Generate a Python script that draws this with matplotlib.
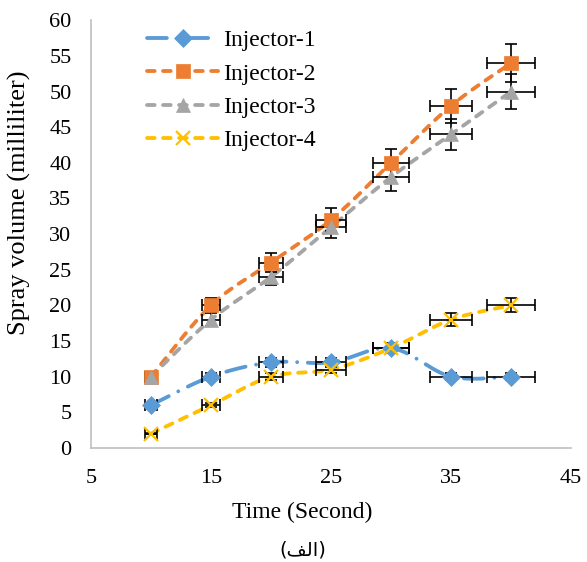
import numpy as np
import matplotlib
matplotlib.use("Agg")
import matplotlib.pyplot as plt
from matplotlib.lines import Line2D

time_s = [10, 15, 20, 25, 30, 35, 40]
injector_1 = [6, 10, 12, 12, 14, 10, 10]
injector_2 = [10, 20, 26, 32, 40, 48, 54]
injector_3 = [10, 18, 24, 31, 38, 44, 50]
injector_4 = [2, 6, 10, 11, 14, 18, 20]
series_names = ["Injector-1", "Injector-2", "Injector-3", "Injector-4"]
err_pct = 0.05  # percentage error bars on both axes
x_ticks = [5, 15, 25, 35, 45]
y_ticks = list(range(0, 61, 5))

colors = ["#5B9BD5", "#ED7D31", "#A5A5A5", "#FFC000"]
markers = ["D", "s", "^", "x"]
msizes = [9, 10, 10, 10]
dash_patterns = [(5.2, 2.8, 0.01, 2.8), (2.0, 2.2), (2.0, 2.2), (2.0, 2.2)]

plt.rcParams["font.family"] = ["Liberation Serif", "DejaVu Sans"]
TICK_FS = 16
XL_FS = 17
YL_FS = 19
LEG_FS = 17


def smooth(x, y, n=30):
    x = np.asarray(x, float)
    y = np.asarray(y, float)
    px = np.concatenate([[x[0]], x, [x[-1]]])
    py = np.concatenate([[y[0]], y, [y[-1]]])
    xs, ys = [], []
    for i in range(1, len(px) - 2):
        p0 = np.array([px[i - 1], py[i - 1]])
        p1 = np.array([px[i], py[i]])
        p2 = np.array([px[i + 1], py[i + 1]])
        p3 = np.array([px[i + 2], py[i + 2]])
        c1 = p1 + (p2 - p0) / 6.0
        c2 = p2 - (p3 - p1) / 6.0
        t = np.linspace(0, 1, n)[:, None]
        b = ((1 - t) ** 3) * p1 + 3 * ((1 - t) ** 2) * t * c1 + 3 * (1 - t) * t ** 2 * c2 + t ** 3 * p2
        xs.append(b[:, 0])
        ys.append(b[:, 1])
    return np.concatenate(xs), np.concatenate(ys)


fig = plt.figure(figsize=(5.87, 5.62), dpi=100)
ax = fig.add_axes([0.155, 0.203, 0.818, 0.761])

all_series = [injector_1, injector_2, injector_3, injector_4]
handles = []
for vals, name, c, m, ms, dp in zip(all_series, series_names, colors, markers, msizes, dash_patterns):
    sx, sy = smooth(time_s, vals)
    ax.plot(sx, sy, color=c, lw=2.75, dashes=dp, dash_capstyle="round", zorder=2)
    xe = [err_pct * v for v in time_s]
    ye = [err_pct * v for v in vals]
    ax.errorbar(time_s, vals, xerr=xe, yerr=ye, fmt="none", ecolor="black",
                elinewidth=1.2, capsize=4, capthick=1.2, zorder=3)
    mew = 1.6 if m == "x" else 0.5
    ax.plot(time_s, vals, linestyle="none", marker=m, markersize=ms, color=c,
            markeredgecolor=c, markeredgewidth=mew, zorder=4)
    handles.append(Line2D([0], [0], color=c, lw=2.75, dashes=dp, dash_capstyle="round",
                          marker=m, markersize=ms, markeredgecolor=c, markeredgewidth=mew))

ax.set_xlim(5, 45)
ax.set_ylim(0, 60)
ax.set_xticks(x_ticks)
ax.set_yticks(y_ticks)
ax.tick_params(axis="x", length=0, labelsize=TICK_FS, pad=15)
ax.tick_params(axis="y", length=0, labelsize=TICK_FS, pad=14)
for s in ["top", "right"]:
    ax.spines[s].set_visible(False)
for s in ["left", "bottom"]:
    ax.spines[s].set_color("#BFBFBF")
    ax.spines[s].set_linewidth(1.2)

ax.set_xlabel("Time (Second)", fontsize=XL_FS, va="center")
ax.xaxis.set_label_coords(0.44, -0.15)
ax.set_ylabel("Spray volume (milliliter)", fontsize=YL_FS, va="center")
ax.yaxis.set_label_coords(-0.15, 0.573)

leg = ax.legend(handles, series_names, loc="upper left", bbox_to_anchor=(0.117, 0.978),
                frameon=False, fontsize=LEG_FS, handlelength=3.0, labelspacing=0.5,
                handletextpad=0.2, borderpad=0, borderaxespad=0)

fig.text(0.516, 0.022, "(\ufed2\ufedf\u0627)", fontsize=14, ha="center", va="center",
         family=["DejaVu Sans"])

fig.savefig("out.png", dpi=100)
